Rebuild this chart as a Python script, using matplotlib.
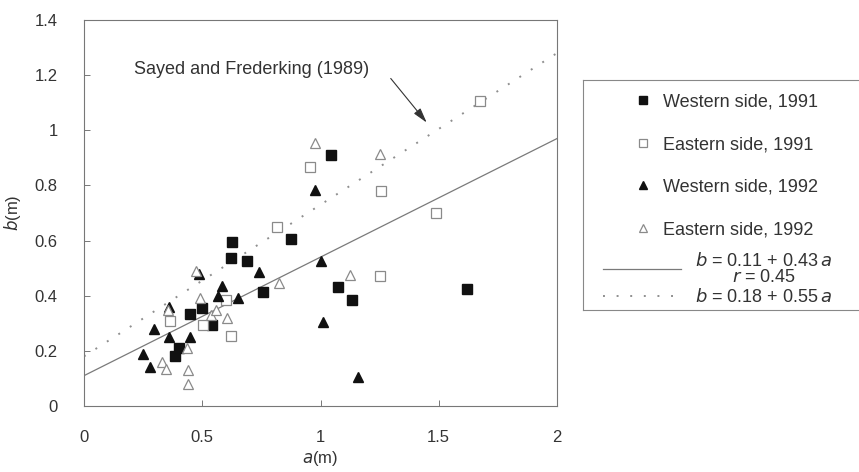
import matplotlib
matplotlib.use("Agg")
import matplotlib.pyplot as plt
from matplotlib.lines import Line2D
import numpy as np

plt.rcParams['font.family'] = ['Liberation Sans', 'DejaVu Sans']

# ---- data ----
w91_a = [0.385, 0.40, 0.45, 0.50, 0.54, 0.62, 0.625, 0.69, 0.755, 0.875, 1.045, 1.075, 1.135, 1.62]
w91_b = [0.18, 0.21, 0.335, 0.355, 0.295, 0.535, 0.595, 0.525, 0.415, 0.605, 0.91, 0.43, 0.385, 0.425]

e91_a = [0.365, 0.505, 0.60, 0.62, 0.815, 0.955, 1.25, 1.255, 1.49, 1.675]
e91_b = [0.31, 0.295, 0.385, 0.255, 0.648, 0.868, 0.47, 0.78, 0.70, 1.105]

w92_a = [0.25, 0.28, 0.295, 0.36, 0.36, 0.45, 0.485, 0.565, 0.585, 0.65, 0.74, 0.975, 1.0, 1.01, 1.16]
w92_b = [0.19, 0.14, 0.28, 0.36, 0.25, 0.25, 0.48, 0.40, 0.435, 0.39, 0.485, 0.785, 0.525, 0.305, 0.105]

e92_a = [0.33, 0.345, 0.355, 0.435, 0.44, 0.44, 0.475, 0.49, 0.535, 0.56, 0.605, 0.825, 0.975, 1.125, 1.25]
e92_b = [0.16, 0.135, 0.35, 0.21, 0.13, 0.08, 0.49, 0.39, 0.33, 0.35, 0.32, 0.445, 0.955, 0.475, 0.915]

fit_coef = (0.11, 0.43)      # b = 0.11 + 0.43 a
sayed_coef = (0.18, 0.55)    # b = 0.18 + 0.55 a
line_a = [0.0, 2.0]

series_labels = ["Western side, 1991", "Eastern side, 1991",
                 "Western side, 1992", "Eastern side, 1992"]
xticks = [0, 0.5, 1, 1.5, 2]
xticklabels = ["0", "0.5", "1", "1.5", "2"]
yticks = [0, 0.2, 0.4, 0.6, 0.8, 1.0, 1.2, 1.4]
yticklabels = ["0", "0.2", "0.4", "0.6", "0.8", "1", "1.2", "1.4"]

# ---- figure ----
W, H = 859, 472
fig = plt.figure(figsize=(W / 100, H / 100), dpi=100)
ax = fig.add_axes([84 / W, 1 - 406 / H, (557 - 84) / W, (406 - 20) / H])

gray_edge = '#8a8a8a'
ms = 7

la = np.array(line_a)
ax.plot(la, fit_coef[0] + fit_coef[1] * la, color='#7a7a7a', lw=0.9, zorder=2)
ax.plot(la, sayed_coef[0] + sayed_coef[1] * la, color='#8f8f8f', lw=1.4,
        linestyle=(0, (1, 6)), zorder=2)

ax.plot(w91_a, w91_b, 's', ms=ms, mfc='#111111', mec='#111111', ls='none', zorder=3)
ax.plot(e91_a, e91_b, 's', ms=ms, mfc='white', mec=gray_edge, mew=0.9, ls='none', zorder=3)
ax.plot(w92_a, w92_b, '^', ms=ms + 0.5, mfc='#111111', mec='#111111', ls='none', zorder=3)
ax.plot(e92_a, e92_b, '^', ms=ms + 0.5, mfc='white', mec=gray_edge, mew=0.9, ls='none', zorder=4)

ax.set_xlim(0, 2)
ax.set_ylim(0, 1.4)
ax.set_xticks(xticks)
ax.set_xticklabels(xticklabels)
ax.set_yticks(yticks)
ax.set_yticklabels(yticklabels)
ax.tick_params(axis='both', direction='in', length=4, width=0.7, color='#777777',
               labelsize=12, labelcolor='#333333')
ax.tick_params(axis='x', pad=17)
ax.tick_params(axis='y', pad=19)
for s in ax.spines.values():
    s.set_color('#777777')
    s.set_linewidth(0.8)

ax.set_xlabel(r"$a$(m)", fontsize=12, color='#333333', labelpad=3)
ax.set_ylabel(r"$b$(m)", fontsize=12, color='#333333', labelpad=8)

ax.text(0.71, 1.222, "Sayed and Frederking (1989)", fontsize=13, color='#333333',
        ha='center', va='center')
ax.annotate('', xy=(1.449, 1.028), xytext=(1.297, 1.188),
            arrowprops=dict(arrowstyle='-|>,head_length=0.9,head_width=0.25',
                            color='#333333', lw=0.8, shrinkA=0, shrinkB=0))

# ---- legend box (open on the right, cut by the figure edge) ----
bx0, bx1 = 583 / W, 1.0
by0, by1 = 1 - 310 / H, 1 - 80 / H
for xs, ys in [([bx0, bx1], [by1, by1]), ([bx0, bx0], [by0, by1]), ([bx0, bx1], [by0, by0])]:
    fig.add_artist(Line2D(xs, ys, transform=fig.transFigure, color='#888888', lw=0.8))

h1 = [Line2D([], [], marker='s', ls='none', ms=ms, mfc='#111111', mec='#111111'),
      Line2D([], [], marker='s', ls='none', ms=ms, mfc='white', mec=gray_edge, mew=0.9),
      Line2D([], [], marker='^', ls='none', ms=ms + 0.5, mfc='#111111', mec='#111111'),
      Line2D([], [], marker='^', ls='none', ms=ms + 0.5, mfc='white', mec=gray_edge, mew=0.9)]
leg1 = fig.legend(h1, series_labels, loc='center left',
                  bbox_to_anchor=(634 / W, 1 - 166 / H), frameon=False,
                  fontsize=13, handlelength=1.0, handletextpad=0.6, labelspacing=1.42,
                  borderpad=0, borderaxespad=0, markerscale=0.8)
for t in leg1.get_texts():
    t.set_color('#333333')

h2 = [Line2D([], [], color='#7a7a7a', lw=0.9),
      Line2D([], [], color='#8f8f8f', lw=1.4, linestyle=(0, (1, 6)))]
l2 = [r"$b$ = 0.11 + 0.43$\,a$" + "\n" + r"$r$ = 0.45", r"$b$ = 0.18 + 0.55$\,a$"]
leg2 = fig.legend(h2, l2, loc='center left', bbox_to_anchor=(603 / W, 1 - 279 / H),
                  frameon=False, fontsize=13, handlelength=4.3, handletextpad=0.8,
                  labelspacing=0.1, borderpad=0, borderaxespad=0)
for t in leg2.get_texts():
    t.set_color('#333333')
    t.set_multialignment('center')
    t.set_linespacing(0.95)

fig.savefig("out.png", dpi=100, facecolor='white')
